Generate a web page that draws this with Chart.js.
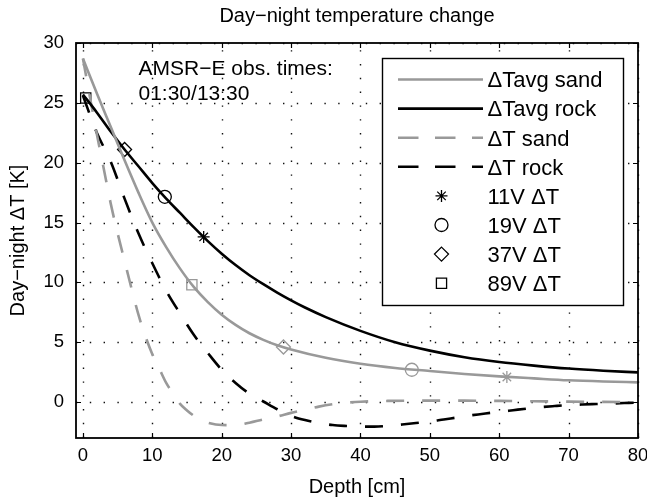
<!DOCTYPE html>
<html><head><meta charset="utf-8">
<script src="https://cdn.jsdelivr.net/npm/chart.js@4/dist/chart.umd.min.js"></script>
<style>html,body{margin:0;padding:0;background:#fff}#wrap{width:647px;height:502px}</style>
</head><body><div id="wrap"><canvas id="c" width="647" height="502"></canvas></div>
<script>
// ---- text ----
const titleText = 'Day\u2212night temperature change';
const xLabel = 'Depth [cm]';
const yLabel = 'Day\u2212night \u0394T [K]';
const noteLines = ['AMSR\u2212E obs. times:', '01:30/13:30'];

// ---- ticks ----
const xTicks = [0, 10, 20, 30, 40, 50, 60, 70, 80];
const yTicks = [0, 5, 10, 15, 20, 25, 30];

// ---- series: ΔTavg sand ----
const sandAvgX = [0, 2, 4, 6, 8, 10, 12, 14, 16, 18, 20, 22, 24, 26, 28, 30, 35, 40, 45, 50, 55, 60, 65, 70, 75, 80];
const sandAvgY = [28.7, 25.8, 23.0, 20.2, 17.5, 15.0, 12.95, 11.15, 9.6, 8.35, 7.3, 6.45, 5.75, 5.2, 4.75, 4.4, 3.7, 3.2, 2.85, 2.6, 2.35, 2.15, 1.98, 1.82, 1.72, 1.65];

// ---- series: ΔTavg rock ----
const rockAvgX = [0, 2, 4, 6, 8, 10, 12, 14, 16, 18, 20, 22, 24, 26, 28, 30, 32, 35, 40, 45, 50, 55, 60, 65, 70, 75, 80];
const rockAvgY = [25.7, 24.2, 22.6, 21.1, 19.7, 18.3, 17.0, 15.8, 14.6, 13.45, 12.4, 11.45, 10.6, 9.85, 9.15, 8.5, 7.9, 7.1, 5.95, 5.0, 4.3, 3.75, 3.35, 3.05, 2.8, 2.62, 2.48];

// ---- series: ΔT sand ----
const sandX = [0, 1, 2, 3, 4, 5, 6, 7, 8, 9, 10, 11, 12, 13, 14, 15, 16, 17, 18, 20, 22, 24, 26, 28, 30, 32, 34, 36, 38, 40, 44, 50, 55, 60, 65, 70, 75, 80];
const sandY = [28.7, 25.5, 22.4, 19.5, 16.6, 14.1, 11.8, 9.5, 7.3, 5.5, 4.0, 2.8, 1.6, 0.7, -0.15, -0.7, -1.15, -1.5, -1.72, -1.92, -1.93, -1.72, -1.45, -1.2, -0.9, -0.65, -0.38, -0.18, -0.05, 0.03, 0.1, 0.12, 0.12, 0.1, 0.07, 0.04, 0.02, 0.0];

// ---- series: ΔT rock ----
const rockX = [0, 2, 4, 6, 8, 10, 12, 14, 16, 18, 20, 22, 24, 26, 28, 30, 32, 34, 36, 38, 40, 42, 44, 46, 48, 50, 52, 54, 56, 58, 60, 62, 64, 66, 68, 70, 72, 74, 76, 78, 80];
const rockY = [25.6, 22.5, 20.1, 17.0, 14.1, 11.6, 9.3, 7.4, 5.6, 4.1, 2.7, 1.6, 0.7, 0.05, -0.6, -1.15, -1.5, -1.75, -1.92, -2.0, -2.05, -2.05, -1.98, -1.87, -1.75, -1.63, -1.45, -1.28, -1.1, -0.95, -0.82, -0.68, -0.54, -0.42, -0.33, -0.25, -0.2, -0.16, -0.12, -0.08, -0.04];

// ---- AMSR-E channel markers: [rock point, sand point] ----
const ch11X = [17.4, 61.1], ch11Y = [13.8, 2.1];
const ch19X = [11.8, 47.4], ch19Y = [17.15, 2.7];
const ch37X = [6.0, 28.9],  ch37Y = [21.1, 4.6];
const ch89X = [0.4, 15.7],  ch89Y = [25.4, 9.8];

const GRAY = '#999999', BLACK = '#000000';
const FONT = "'Liberation Sans', Arial, Helvetica, sans-serif";
const pts = (xs, ys) => xs.map((x, i) => ({x: x, y: ys[i]}));

function lineDs(label, xs, ys, color, dashed) {
  return {label, data: pts(xs, ys), borderColor: color, borderWidth: 2.6,
    borderDash: dashed ? [18, 18] : [], pointRadius: 0, fill: false,
    cubicInterpolationMode: 'monotone', _kind: 'line'};
}
function markDs(label, xs, ys, style, r) {
  return {label, data: pts(xs, ys), showLine: false, pointStyle: style, pointRadius: r,
    pointHoverRadius: r, pointBorderColor: [BLACK, GRAY], pointBackgroundColor: 'rgba(0,0,0,0)',
    pointBorderWidth: 1.3, _kind: 'mark'};
}

const datasets = [
  lineDs('\u0394Tavg sand', sandAvgX, sandAvgY, GRAY, false),
  lineDs('\u0394Tavg rock', rockAvgX, rockAvgY, BLACK, false),
  lineDs('\u0394T sand', sandX, sandY, GRAY, true),
  lineDs('\u0394T rock', rockX, rockY, BLACK, true),
  markDs('11V \u0394T', ch11X, ch11Y, 'star', 6),
  markDs('19V \u0394T', ch19X, ch19Y, 'circle', 6.5),
  markDs('37V \u0394T', ch37X, ch37Y, 'rectRot', 7),
  markDs('89V \u0394T', ch89X, ch89Y, 'rect', 7.2),
];

function drawMarker(ctx, style, x, y, r) {
  ctx.beginPath();
  if (style === 'circle') { ctx.arc(x, y, r, 0, Math.PI * 2); }
  else if (style === 'rect') { const s = r * Math.SQRT1_2; ctx.rect(x - s, y - s, 2 * s, 2 * s); }
  else if (style === 'rectRot') { ctx.moveTo(x, y - r); ctx.lineTo(x + r, y); ctx.lineTo(x, y + r); ctx.lineTo(x - r, y); ctx.closePath(); }
  else if (style === 'star') {
    for (let k = 0; k < 4; k++) { const a = k * Math.PI / 4; ctx.moveTo(x - Math.cos(a) * r, y - Math.sin(a) * r); ctx.lineTo(x + Math.cos(a) * r, y + Math.sin(a) * r); }
  }
  ctx.stroke();
}

const decor = {
  id: 'decor',
  beforeDatasetsDraw(chart) {
    const {ctx, chartArea: a, scales: {x, y}} = chart;
    ctx.save();
    ctx.strokeStyle = '#111'; ctx.lineWidth = 1.4; ctx.setLineDash([1.4, 12.4]);
    xTicks.forEach(v => { const px = Math.round(x.getPixelForValue(v)) + 0.5; ctx.beginPath(); ctx.moveTo(px, a.bottom); ctx.lineTo(px, a.top); ctx.stroke(); });
    yTicks.forEach(v => { const py = Math.round(y.getPixelForValue(v)) + 0.5; ctx.beginPath(); ctx.moveTo(a.left, py); ctx.lineTo(a.right, py); ctx.stroke(); });
    ctx.restore();
  },
  afterDatasetsDraw(chart) {
    const {ctx, chartArea: a, scales: {x, y}} = chart;
    ctx.save();
    // inward ticks
    ctx.strokeStyle = '#000'; ctx.lineWidth = 1.2; ctx.setLineDash([]);
    const tl = 5;
    xTicks.forEach(v => { const px = Math.round(x.getPixelForValue(v)) + 0.5; ctx.beginPath(); ctx.moveTo(px, a.bottom); ctx.lineTo(px, a.bottom - tl); ctx.moveTo(px, a.top); ctx.lineTo(px, a.top + tl); ctx.stroke(); });
    yTicks.forEach(v => { const py = Math.round(y.getPixelForValue(v)) + 0.5; ctx.beginPath(); ctx.moveTo(a.left, py); ctx.lineTo(a.left + tl, py); ctx.moveTo(a.right, py); ctx.lineTo(a.right - tl, py); ctx.stroke(); });
    // frame
    ctx.lineWidth = 1.8;
    ctx.strokeRect(a.left, a.top, a.right - a.left, a.bottom - a.top);
    // annotation
    ctx.fillStyle = '#000'; ctx.font = '21px ' + FONT; ctx.textBaseline = 'alphabetic'; ctx.textAlign = 'left';
    ctx.fillText(noteLines[0], 138.5, 75);
    ctx.fillText(noteLines[1], 138.5, 100);
    // legend
    const L = 382, T = 58, R = 623, B = 305;
    ctx.fillStyle = '#fff'; ctx.fillRect(L, T, R - L, B - T);
    ctx.lineWidth = 1.4; ctx.strokeStyle = '#000'; ctx.strokeRect(L + 0.5, T + 0.5, R - L, B - T);
    chart.data.datasets.forEach((ds, i) => {
      const cy = 79.5 + i * 29.1;
      if (ds._kind === 'line') {
        ctx.strokeStyle = ds.borderColor; ctx.lineWidth = ds.borderWidth;
        ctx.setLineDash(ds.borderDash.length ? [20.5, 16.5] : []);
        ctx.beginPath(); ctx.moveTo(398, cy); ctx.lineTo(483, cy); ctx.stroke();
        ctx.setLineDash([]);
      } else {
        ctx.strokeStyle = '#000'; ctx.lineWidth = 1.3;
        drawMarker(ctx, ds.pointStyle, 441.5, cy, ds.pointRadius);
      }
      ctx.fillStyle = '#000'; ctx.font = '22px ' + FONT; ctx.textBaseline = 'alphabetic';
      ctx.fillText(ds.label, 487.5, cy + 7.8);
    });
    ctx.restore();
  }
};

new Chart(document.getElementById('c'), {
  type: 'line',
  data: {datasets},
  plugins: [decor],
  options: {
    responsive: false, animation: false, devicePixelRatio: 1,
    layout: {padding: {left: 0, right: 9, top: 0, bottom: 0}},
    plugins: {
      legend: {display: false}, tooltip: {enabled: false},
      title: {display: true, fullSize: false, align: 'center', text: titleText, color: '#000', font: {family: FONT, size: 20, weight: 'normal', lineHeight: 1.2}, padding: {top: 4, bottom: 15}}
    },
    scales: {
      x: {type: 'linear', min: -1, max: 80,
        afterBuildTicks: s => { s.ticks = xTicks.map(v => ({value: v})); },
        afterFit: s => { s.height = 64; s.paddingLeft = 0; s.paddingRight = 0; },
        grid: {display: false, drawTicks: false}, border: {display: false},
        ticks: {color: '#000', padding: 7, maxRotation: 0, autoSkip: false, font: {family: FONT, size: 18.5}},
        title: {display: true, text: xLabel, color: '#000', font: {family: FONT, size: 20, lineHeight: 1.2}, padding: {top: 0, bottom: 3}}
      },
      y: {type: 'linear', min: -3, max: 30,
        afterBuildTicks: s => { s.ticks = yTicks.map(v => ({value: v})); },
        afterFit: s => { s.width = 76; s.paddingTop = 0; s.paddingBottom = 0; },
        grid: {display: false, drawTicks: false}, border: {display: false},
        ticks: {color: '#000', padding: 12, autoSkip: false, font: {family: FONT, size: 18.5}},
        title: {display: true, text: yLabel, color: '#000', font: {family: FONT, size: 20, lineHeight: 1.2}, padding: {top: 6, bottom: 0}}
      }
    }
  }
});
</script></body></html>
